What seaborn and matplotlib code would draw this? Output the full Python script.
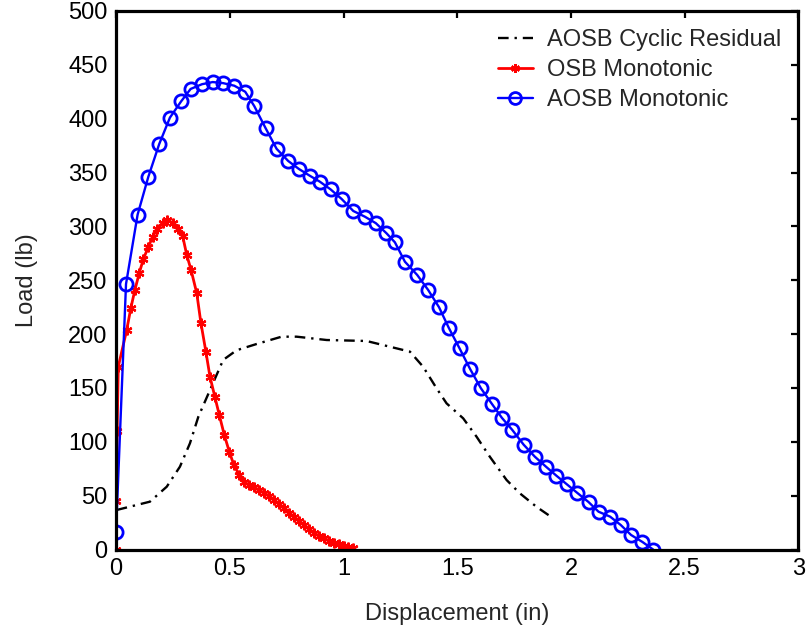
import numpy as np
import pandas as pd
import matplotlib
matplotlib.use("Agg")
import matplotlib.pyplot as plt
import seaborn as sns

# AOSB Cyclic Residual
cyc_x = [0.003, 0.149, 0.223, 0.281, 0.325, 0.362, 0.413, 0.471, 0.530, 0.618, 0.728, 0.794,
         0.926, 1.101, 1.292, 1.350, 1.409, 1.453, 1.526, 1.585, 1.643, 1.717, 1.775, 1.848, 1.907]
cyc_y = [36.7, 44.4, 58.3, 76.9, 98.6, 123.3, 148.0, 176.0, 185.0, 190.8, 197.6, 197.6,
         194.5, 193.6, 183.7, 169.7, 149.7, 135.7, 121.8, 104.7, 86.2, 64.5, 52.2, 39.7, 31.1]

# OSB Monotonic
osb_x = [0.000, 0.002, 0.005, 0.010, 0.047, 0.065, 0.083, 0.102, 0.120, 0.142, 0.161, 0.181,
         0.205, 0.225, 0.249, 0.271, 0.293, 0.311, 0.330, 0.355, 0.373, 0.395, 0.413, 0.435,
         0.454, 0.476, 0.498, 0.518, 0.542, 0.562, 0.584, 0.606, 0.628, 0.650, 0.672, 0.694,
         0.716, 0.738, 0.760, 0.782, 0.804, 0.826, 0.848, 0.870, 0.892, 0.914, 0.936, 0.958,
         0.980, 1.002, 1.021, 1.043]
osb_y = [0.0, 45.0, 110.0, 169.7, 203.8, 224.0, 241.0, 256.5, 269.5, 281.0, 290.0, 298.0,
         303.4, 306.0, 303.4, 298.0, 291.0, 273.4, 259.5, 237.9, 210.6, 183.7, 160.5, 141.3,
         124.9, 106.3, 90.8, 78.5, 69.2, 63.0, 59.9, 57.8, 55.2, 52.7, 49.7, 46.0,
         42.2, 38.3, 34.2, 30.5, 26.7, 22.7, 19.0, 15.6, 12.5, 10.4, 8.2, 6.3,
         4.8, 3.2, 2.0, 1.1]

# AOSB Monotonic
aosb_x = [0.000, 0.044, 0.095, 0.142, 0.190, 0.237, 0.286, 0.328, 0.378, 0.425, 0.471, 0.520,
          0.568, 0.608, 0.658, 0.706, 0.757, 0.804, 0.852, 0.896, 0.943, 0.992, 1.043, 1.094,
          1.142, 1.189, 1.226, 1.270, 1.324, 1.372, 1.420, 1.463, 1.510, 1.557, 1.604, 1.652,
          1.696, 1.742, 1.792, 1.841, 1.890, 1.936, 1.982, 2.028, 2.077, 2.121, 2.172, 2.219,
          2.264, 2.314, 2.361]
aosb_y = [16.0, 246.5, 311.0, 346.0, 376.5, 401.0, 416.0, 427.6, 432.0, 434.0, 433.0, 430.6,
          425.0, 411.6, 391.0, 372.0, 360.7, 353.3, 347.0, 341.5, 334.4, 325.4, 314.3, 309.0,
          303.0, 293.6, 285.2, 267.2, 254.9, 241.0, 224.9, 205.7, 186.8, 167.4, 149.7, 135.3,
          122.3, 111.0, 97.3, 86.2, 76.9, 68.5, 60.5, 52.5, 44.1, 35.1, 30.5, 22.7,
          13.5, 7.0, 0.0]

xticks = [0, 0.5, 1, 1.5, 2, 2.5, 3]
xtick_labels = ["0", "0.5", "1", "1.5", "2", "2.5", "3"]
yticks = list(range(0, 501, 50))

sns.set_style("white")
plt.rcParams['font.family'] = ['Liberation Sans', 'DejaVu Sans']

fig = plt.figure(figsize=(8.09, 6.27), dpi=100)
ax = fig.add_axes([0.1434, 0.1236, 0.8436, 0.8589])

sns.lineplot(x=cyc_x, y=cyc_y, ax=ax, sort=False, estimator=None, color='black',
             linestyle=(0, (4.5, 2.5, 1, 2.5)), linewidth=1.7, label='AOSB Cyclic Residual')
sns.lineplot(x=osb_x, y=osb_y, ax=ax, sort=False, estimator=None, color='red',
             linewidth=2.0, marker=(6, 2, 0), markersize=7, markeredgewidth=1.6,
             markeredgecolor='red', label='OSB Monotonic')
sns.lineplot(x=aosb_x, y=aosb_y, ax=ax, sort=False, estimator=None, color='blue',
             linewidth=1.7, marker='o', markersize=9.5, markerfacecolor='none',
             markeredgecolor='blue', markeredgewidth=2.0, label='AOSB Monotonic')

ax.set_xlim(0, 3)
ax.set_ylim(0, 500)
ax.set_xticks(xticks)
ax.set_xticklabels(xtick_labels)
ax.set_yticks(yticks)
ax.tick_params(direction='in', length=5, width=1.6, labelsize=17, pad=6,
               top=True, right=True, colors='black')
for s in ax.spines.values():
    s.set_visible(True)
    s.set_linewidth(2.3)
    s.set_color('black')

ax.set_xlabel('Displacement (in)', fontsize=17, labelpad=17)
ax.set_ylabel('Load (lb)', fontsize=17, labelpad=22)

leg = ax.legend(loc='upper left', bbox_to_anchor=(0.559, 0.966), frameon=False,
                fontsize=17, handlelength=1.5, handletextpad=0.6, labelspacing=0.33,
                borderpad=0, borderaxespad=0, markerscale=0.9)

fig.savefig('out.png', dpi=100)
